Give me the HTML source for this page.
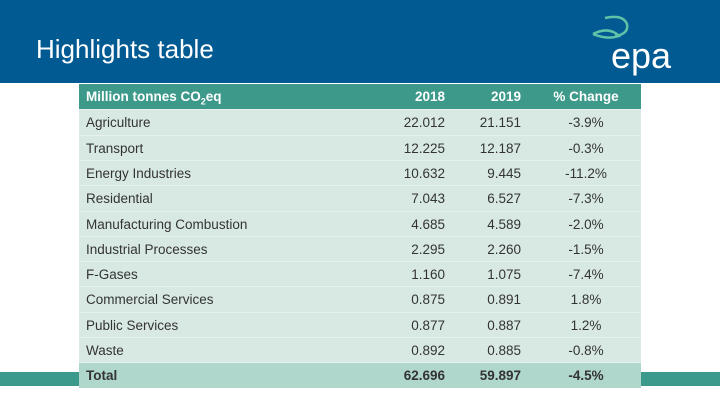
<!DOCTYPE html>
<html><head><meta charset="utf-8"><style>
body{margin:0;width:720px;height:405px;overflow:hidden;background:#fff;position:relative;font-family:"Liberation Sans",sans-serif}
#hdr{position:absolute;left:0;top:0;width:720px;height:83px;background:#015a92}
#title{position:absolute;left:36px;top:34px;color:#fff;font-size:26px}
#band{position:absolute;left:0;top:372px;width:720px;height:14px;background:#3c9a8c}
#tbl{position:absolute;left:79px;top:84px;width:562px;height:302px;background:#d8e9e3}
.row{position:absolute;left:0;width:562px;height:25.3px;font-size:13.5px;color:#333;border-top:1px solid #e6f1ed;box-sizing:border-box}
.row span{position:absolute;top:5px}
.c0{left:7px}.c1{right:196px}.c2{right:120px}.c3{left:470px;width:74px;text-align:center}
.hd{background:#3d9a8a;color:#fff;font-weight:bold;border:none}
.tot{background:#b0d7cc;font-weight:bold;color:#333}
</style></head><body>
<div id="hdr"></div>
<div id="title">Highlights table</div>
<svg style="position:absolute;left:585px;top:10px" width="110" height="70">
<path d="M20 8 Q38 4 42 14 Q44 24 30 26 M8 24 Q24 16 34 26 Q22 30 8 24" stroke="#5fc3a8" stroke-width="2.5" fill="none"/>
<text x="26" y="58" fill="#fff" font-size="36" font-family="Liberation Sans">epa</text>
</svg>
<div id="band"></div>
<div id="tbl"></div>
<script>
const sectors=["Agriculture","Transport","Energy Industries","Residential","Manufacturing Combustion","Industrial Processes","F-Gases","Commercial Services","Public Services","Waste"];
const v2018=["22.012","12.225","10.632","7.043","4.685","2.295","1.160","0.875","0.877","0.892"];
const v2019=["21.151","12.187","9.445","6.527","4.589","2.260","1.075","0.891","0.887","0.885"];
const pct=["-3.9%","-0.3%","-11.2%","-7.3%","-2.0%","-1.5%","-7.4%","1.8%","1.2%","-0.8%"];
const tbl=document.getElementById('tbl');
function addRow(cells,i,cls,name){
  const r=document.createElement('div');
  r.className='row '+cls;
  r.style.top=(i*25.3)+'px';
  
  
  cells.forEach((c,j)=>{const s=document.createElement('span');s.className='c'+j;s.innerHTML=c;r.appendChild(s);});
  tbl.appendChild(r);
}
addRow(["Million tonnes CO<sub style='font-size:9px'>2</sub>eq","2018","2019","% Change"],0,'hd','table-header-row');
sectors.forEach((s,i)=>addRow([s,v2018[i],v2019[i],pct[i]],i+1,'','row-'+s.toLowerCase().replace(/ /g,'-')));
addRow(["Total","62.696","59.897","-4.5%"],11,'tot','total-row');
</script>
</body></html>
